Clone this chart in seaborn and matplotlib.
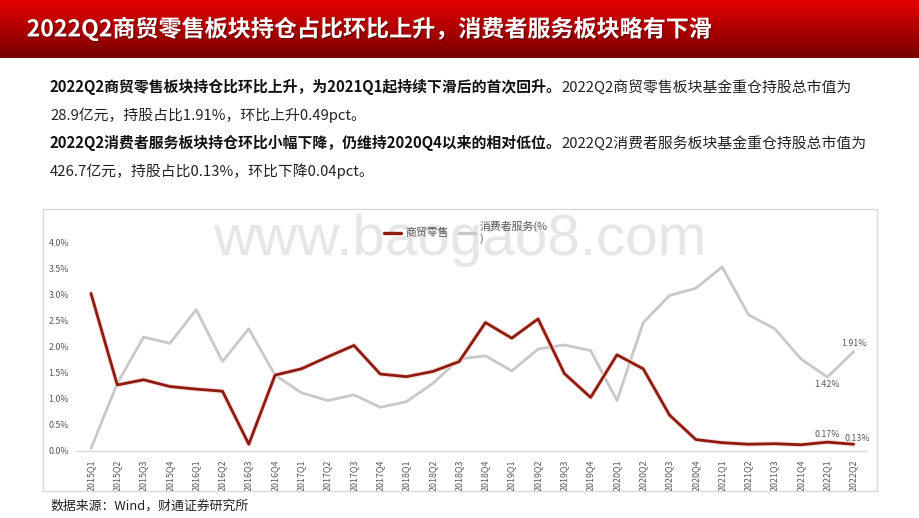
import numpy as np
import pandas as pd
import matplotlib
matplotlib.use("Agg")
import matplotlib.pyplot as plt
import matplotlib.patheffects as pe
from matplotlib.patches import Rectangle
from matplotlib.lines import Line2D
import seaborn as sns

quarters = ["2015Q1", "2015Q2", "2015Q3", "2015Q4", "2016Q1", "2016Q2", "2016Q3", "2016Q4",
            "2017Q1", "2017Q2", "2017Q3", "2017Q4", "2018Q1", "2018Q2", "2018Q3", "2018Q4",
            "2019Q1", "2019Q2", "2019Q3", "2019Q4", "2020Q1", "2020Q2", "2020Q3", "2020Q4",
            "2021Q1", "2021Q2", "2021Q3", "2021Q4", "2022Q1", "2022Q2"]
retail = [3.03, 1.27, 1.37, 1.24, 1.19, 1.15, 0.13, 1.46, 1.58, 1.81, 2.03, 1.48, 1.43, 1.53,
          1.72, 2.47, 2.17, 2.54, 1.49, 1.03, 1.85, 1.58, 0.69, 0.22, 0.16, 0.13, 0.14, 0.12,
          0.17, 0.13]
service = [0.05, 1.30, 2.19, 2.07, 2.72, 1.72, 2.35, 1.46, 1.12, 0.97, 1.08, 0.84, 0.95, 1.30,
           1.77, 1.83, 1.54, 1.96, 2.04, 1.93, 0.97, 2.47, 2.99, 3.13, 3.54, 2.62, 2.35, 1.77,
           1.42, 1.91]
series_names = ["商贸零售", "消费者服务(%\n)"]
yticks = [0.0, 0.5, 1.0, 1.5, 2.0, 2.5, 3.0, 3.5, 4.0]

title = "2022Q2商贸零售板块持仓占比环比上升，消费者服务板块略有下滑"
para = [
    ("2022Q2商贸零售板块持仓比环比上升，为2021Q1起持续下滑后的首次回升。", "2022Q2商贸零售板块基金重仓持股总市值为"),
    ("", "28.9亿元，持股占比1.91%，环比上升0.49pct。"),
    ("2022Q2消费者服务板块持仓环比小幅下降，仍维持2020Q4以来的相对低位。", "2022Q2消费者服务板块基金重仓持股总市值为"),
    ("", "426.7亿元，持股占比0.13%，环比下降0.04pct。"),
]
source = "数据来源：Wind，财通证券研究所"

RED = "#8e1b0e"
GRAY = "#c8c8c8"

sns.set_theme(style="white")
plt.rcParams['font.family'] = ['Noto Sans CJK SC', 'DejaVu Sans']
plt.rcParams['axes.unicode_minus'] = False

W, H = 920, 518
fig = plt.figure(figsize=(W / 100, H / 100), dpi=100)
fig.patch.set_facecolor("white")

# Title band with gradient
tax = fig.add_axes([0, 1 - 58 / H, 1, 58 / H])
top = np.array([0.90, 0.0, 0.0])
bot = np.array([0.47, 0.0, 0.0])
t = np.linspace(0, 1, 100)[:, None]
grad = (top[None, :] * (1 - t) + bot[None, :] * t)[:, None, :]
grad = np.repeat(grad, 2, axis=1)
tax.imshow(grad, aspect="auto", extent=[0, 1, 0, 1], origin="upper")
tax.set_axis_off()
tax.text(0.029, 0.50, title, color="white", fontsize=16.6, fontweight="bold",
         va="center", ha="left", transform=tax.transAxes,
         path_effects=[pe.withSimplePatchShadow(offset=(1, -1), shadow_rgbFace="#400000", alpha=0.5)])

# Paragraph
renderer = fig.canvas.get_renderer()
ys = [87, 115, 143, 171]
for (b, n), yp in zip(para, ys):
    x = 50 / W
    yf = 1 - yp / H
    if b:
        tb = fig.text(x, yf, b, fontsize=10.7, fontweight="bold", color="#111111", va="center", ha="left")
        bb = tb.get_window_extent(renderer)
        x = bb.x1 / W
    fig.text(x, yf, n, fontsize=10.7, color="#222222", va="center", ha="left")

# Chart frame
fig.patches.append(Rectangle((43 / W, 1 - 491 / H), (877 - 43) / W, (491 - 209) / H,
                             transform=fig.transFigure, fill=False, edgecolor="#d9d9d9", lw=1))

# Watermark
fig.text(460 / W, 1 - 240 / H, "www.baogao8.com", fontsize=42, color="#e6e6e6",
         family="Liberation Sans", ha="center", va="center", zorder=0)

# Main axes
ax = fig.add_axes([76 / W, 1 - 451 / H, (866 - 76) / W, (451 - 222.2) / H])
ax.set_facecolor("none")
df = pd.DataFrame({
    "quarter": quarters * 2,
    "value": retail + service,
    "series": [series_names[0]] * len(quarters) + [series_names[1]] * len(quarters),
})
sns.lineplot(data=df, x="quarter", y="value", hue="series", sort=False, ax=ax,
             palette={series_names[0]: RED, series_names[1]: GRAY},
             hue_order=[series_names[1], series_names[0]], linewidth=2, legend=False)
for line in ax.get_lines():
    if matplotlib.colors.to_hex(line.get_color()) == RED:
        line.set_path_effects([pe.Stroke(linewidth=3.4, foreground="#f7dada"), pe.Normal()])

ax.set_xlim(-0.57, 29.47)
ax.set_ylim(0, 4.4)
ax.set_yticks(yticks)
ax.set_yticklabels([f"{v:.1f}%" for v in yticks], fontsize=6.4, color="#595959")
ax.set_xticks(range(len(quarters)))
ax.set_xticklabels(quarters, rotation=90, fontsize=6.4, color="#595959")
ax.tick_params(axis="both", length=0, pad=5)
ax.tick_params(axis="x", pad=6)
ax.set_xlabel("")
ax.set_ylabel("")
for s in ["top", "right", "left"]:
    ax.spines[s].set_visible(False)
ax.spines["bottom"].set_color("#d9d9d9")
ax.spines["bottom"].set_linewidth(1)
ax.grid(False)

# Annotations
n = len(quarters)
ann_kw = dict(fontsize=6.4, color="#595959")
ax.annotate(f"{service[-1]:.2f}%", (n - 1, service[-1]), xytext=(0, 3), textcoords="offset points", ha="center", va="bottom", **ann_kw)
ax.annotate(f"{service[-2]:.2f}%", (n - 2, service[-2]), xytext=(0, -2), textcoords="offset points", ha="center", va="top", **ann_kw)
ax.annotate(f"{retail[-2]:.2f}%", (n - 2, retail[-2]), xytext=(0, 2), textcoords="offset points", ha="center", va="bottom", **ann_kw)
ax.annotate(f"{retail[-1]:.2f}%", (n - 1, retail[-1]), xytext=(3, 1), textcoords="offset points", ha="center", va="bottom", **ann_kw)

# Legend
handles = [Line2D([], [], color=RED, lw=2.4), Line2D([], [], color=GRAY, lw=2.4)]
fig.legend(handles, series_names, loc="upper left", bbox_to_anchor=(380 / W, 1 - 216 / H),
           ncol=2, frameon=False, fontsize=7.8, handlelength=1.5, handletextpad=0.4,
           columnspacing=1.0, labelcolor="#595959", borderaxespad=0)

# Source
fig.text(50 / W, 1 - 506 / H, source, fontsize=9.3, color="#222222", va="center", ha="left")

fig.savefig("out.png", dpi=100, facecolor="white")
